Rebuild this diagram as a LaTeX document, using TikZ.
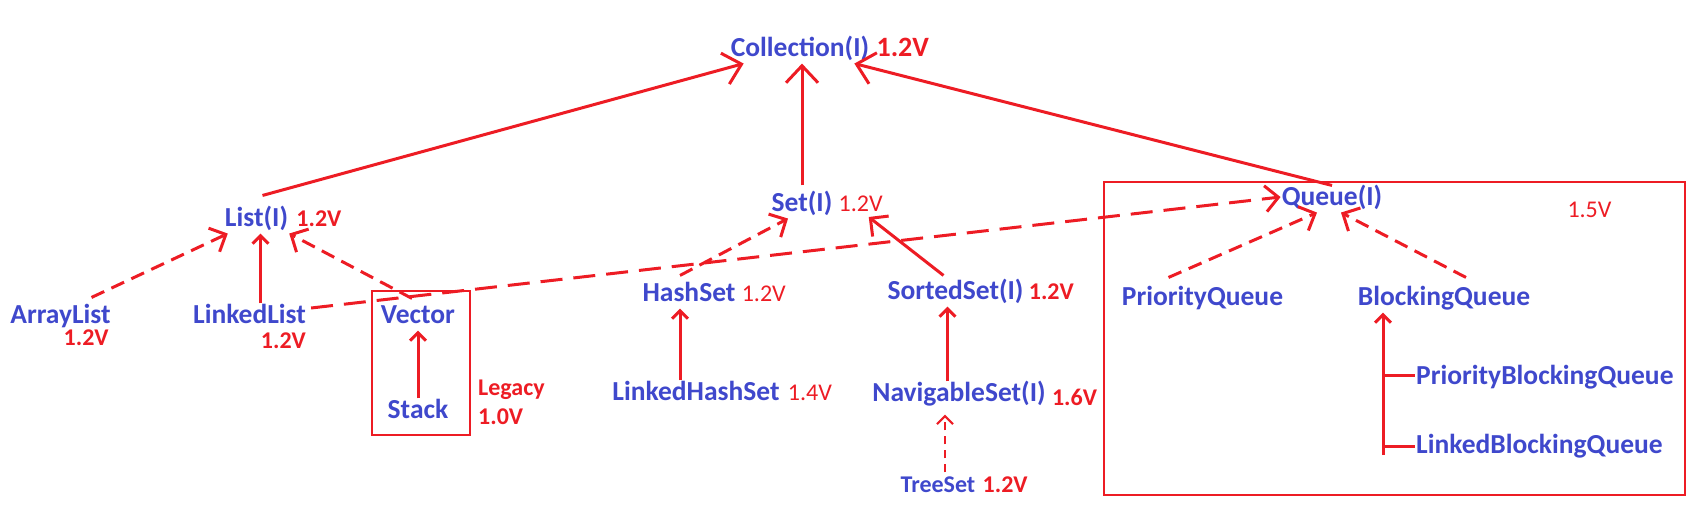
\documentclass[tikz,border=0pt]{standalone}
\usepackage{fontspec}
\setmainfont{Carlito}
\usetikzlibrary{arrows.meta,positioning}
\definecolor{clsblue}{RGB}{63,72,204}
\definecolor{penred}{RGB}{237,28,36}

\begin{document}
\begin{tikzpicture}[x=1pt, y=-1pt,
    every node/.style={inner sep=1pt},
    cls/.style={font=\fontsize{27.5}{32}\selectfont\bfseries, text=clsblue, text height=19.2pt, text depth=5.5pt},
    ver/.style={font=\fontsize{24}{28}\selectfont, text=penred, text height=16.8pt, text depth=4.8pt},
    verb/.style={ver, font=\fontsize{24}{28}\selectfont\bfseries},
    isa/.style={draw=penred, line width=3pt, -{Straight Barb[length=13pt,width=26pt]}},
    bighead/.style={-{Straight Barb[length=17pt,width=32pt]}},
    smallhead/.style={-{Straight Barb[length=8pt,width=16pt]}},
    impl/.style={isa, dash pattern=on 14pt off 8pt},
    frame/.style={draw=penred, line width=1.3pt}]
  \useasboundingbox (0,0) rectangle (1707,520);

  % top level
  \node[cls] (coll) at (800,50) {Collection(I)};
  \node[verb, font=\fontsize{28}{32}\selectfont\bfseries, right=5pt of coll] (collv) {1.2V};

  % list branch
  \node[cls] (list) at (256.5,220) {List(I)};
  \node[verb, right=6pt of list] (listv) {1.2V};
  \node[cls] (arraylist) at (60.5,317) {ArrayList};
  \node[verb, below left=-3pt and 2pt of arraylist.south east] (arraylistv) {1.2V};
  \node[cls] (linkedlist) at (249.5,317) {LinkedList};
  \node[verb, below left=0pt and 0pt of linkedlist.south east] (linkedlistv) {1.2V};
  \node[cls] (vector) at (418,317) {Vector};
  \node[cls] (stack) at (418,412) {Stack};
  \node[font=\fontsize{24}{29}\selectfont\bfseries, text=penred, align=left, anchor=north west] (legacy) at (477,379) {Legacy\\1.0V};

  % set branch
  \node[cls] (set) at (802,205) {Set(I)};
  \node[ver, right=4pt of set] (setv) {1.2V};
  \node[cls] (hashset) at (689,295) {HashSet};
  \node[ver, right=4pt of hashset] (hashsetv) {1.2V};
  \node[cls] (lhs) at (696,394) {LinkedHashSet};
  \node[ver, right=6pt of lhs] (lhsv) {1.4V};
  \node[cls] (sorted) at (955.5,293) {SortedSet(I)};
  \node[verb, right=3pt of sorted] (sortedv) {1.2V};
  \node[cls] (nav) at (959,395) {NavigableSet(I)};
  \node[verb, right=4pt of nav, yshift=-4pt] (navv) {1.6V};
  \node[cls, font=\fontsize{24}{28}\selectfont\bfseries] (treeset) at (938,486) {TreeSet};
  \node[verb, right=5pt of treeset] (treesetv) {1.2V};

  % queue branch
  \node[cls] (queue) at (1332,199) {Queue(I)};
  \node[ver] (queuev) at (1589.5,211) {1.5V};
  \node[cls] (pq) at (1202.5,299) {PriorityQueue};
  \node[cls] (bq) at (1444,299) {BlockingQueue};
  \node[cls, anchor=west] (pbq) at (1415,378) {PriorityBlockingQueue};
  \node[cls, anchor=west] (lbq) at (1415,447) {LinkedBlockingQueue};
  \coordinate (bqfoot) at (1383,455);

  % boxes
  \draw[frame] (372,291) rectangle (470,435);
  \draw[frame] (1104,182) rectangle (1685,495);

  % connectors
  \draw[isa, bighead] ([shift={(6,-11)}]list.north) -- ([xshift=14pt]coll.south west);
  \draw[isa, bighead] ([yshift=6pt]set.north) -- (set.north |- coll.south);
  \draw[isa, bighead] (queue.north) -- ([xshift=-16pt]coll.south east);
  \draw[impl] ([shift={(31,-6)}]arraylist.north) -- ([xshift=4pt]list.south west);
  \draw[isa, smallhead] ([xshift=11pt]linkedlist.north) -- ([xshift=11pt]linkedlist.north |- list.south);
  \draw[impl] ([shift={(-6,-5)}]vector.north) -- (list.south east);
  \draw[impl, dash pattern=on 22pt off 11pt] ([shift={(4,-9)}]linkedlist.east) -- ([yshift=2pt]queue.west);
  \draw[isa, smallhead] (stack.north) -- (vector.south);
  \draw[impl] ([shift={(-9,-6)}]hashset.north) -- ([xshift=-14pt]set.south);
  \draw[isa] ([shift={(-12,-4)}]sorted.north) -- ([xshift=8pt]setv.south);
  \draw[isa, smallhead] ([xshift=-9pt]hashset.south |- lhs.north) -- ([xshift=-9pt]hashset.south);
  \draw[isa, smallhead] ([xshift=-8pt]sorted.south |- nav.north) -- ([xshift=-8pt]sorted.south);
  \draw[impl, smallhead, line width=2.2pt, dash pattern=on 8pt off 6pt] ([xshift=7pt]treeset.north) -- ([shift={(7,6)}]treeset.north |- nav.south);
  \draw[impl] ([shift={(-34,-8)}]pq.north) -- ([xshift=-15pt]queue.south);
  \draw[impl] ([shift={(22,-8)}]bq.north) -- ([xshift=9pt]queue.south);
  \draw[isa, smallhead] (bqfoot) -- (bqfoot |- bq.south);
  \draw[draw=penred, line width=3pt] ([yshift=3pt]bqfoot |- pbq.west) -- ([yshift=3pt]pbq.west);
  \draw[draw=penred, line width=3pt] ([yshift=1pt]bqfoot |- lbq.west) -- ([yshift=1pt]lbq.west);
\end{tikzpicture}
\end{document}
